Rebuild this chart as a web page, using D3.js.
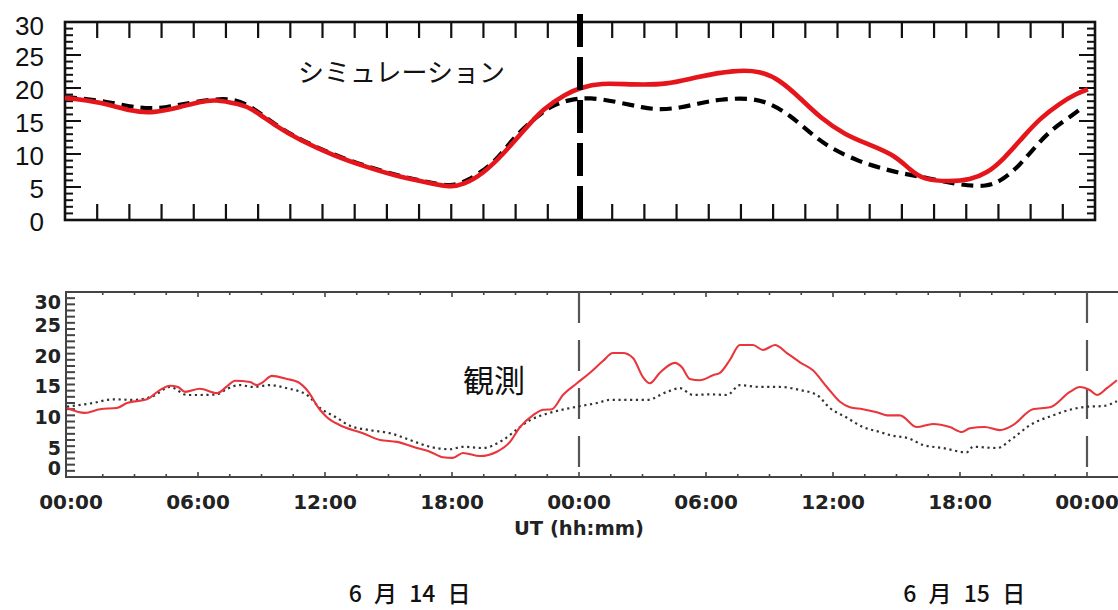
<!DOCTYPE html>
<html>
<head>
<meta charset="utf-8">
<script src="https://cdn.jsdelivr.net/npm/d3@7"></script>
<style>
  html, body { margin: 0; padding: 0; background: #fff; }
  svg { display: block; }
</style>
</head>
<body>
<svg id="chart" width="1118" height="610"></svg>
<script>
// ---- data: hours since 00:00 UT on June 14, values in the panel units ----
const hourTicks = [0, 6, 12, 18, 24, 30, 36, 42, 48];
const hourTickLabels = ["00:00", "06:00", "12:00", "18:00", "00:00", "06:00", "12:00", "18:00", "00:00"];
const valueTicks = [0, 5, 10, 15, 20, 25, 30];
const dayBoundaries = [24, 48];
const dateLabels = ["6 月 14 日", "6 月 15 日"];
const dateLabelHours = [16, 42.2];
const panelTitles = ["シミュレーション", "観測"];
const axisTitle = "UT (hh:mm)";

// simulation, red solid curve
const simRed = [
  [0, 18.5], [1.63, 17.9], [3.17, 16.4], [4.1, 16.2], [5.36, 17.1], [6.29, 17.9], [6.99, 18.3],
  [8.16, 17.5], [8.62, 17.1], [9.88, 14.1], [10.95, 12.1], [12.49, 9.8], [14.07, 8.0], [15.61, 6.5],
  [17.15, 5.5], [17.94, 5.0], [18.55, 5.3], [19.48, 7.0], [20.4, 9.9], [21.34, 13.4], [22.28, 16.9],
  [23.39, 19.2], [24.0, 20.0], [24.93, 20.8], [26.47, 20.5], [28.05, 20.5], [29.45, 21.7],
  [31.22, 22.7], [32.39, 22.6], [33.32, 21.2], [34.25, 18.5], [35.19, 15.5], [36.35, 12.9],
  [37.51, 11.4], [38.68, 9.8], [39.38, 7.6], [39.98, 6.1], [41.24, 5.8], [42.18, 6.1], [42.97, 7.1],
  [43.71, 9.1], [44.65, 12.6], [45.44, 15.4], [46.37, 17.7], [47.16, 19.2], [47.67, 19.8]
];

// simulation, black dashed curve
const simBlack = [
  [0, 18.6], [1.63, 18.2], [3.49, 16.8], [4.75, 17.0], [5.97, 17.9], [7.69, 18.6], [8.62, 17.4],
  [9.88, 14.2], [10.95, 12.2], [12.49, 9.9], [14.07, 8.1], [15.61, 6.6], [17.15, 5.6], [17.94, 5.1],
  [18.73, 5.8], [19.99, 8.6], [20.6, 11.2], [21.34, 13.9], [22.28, 16.4], [22.6, 17.1], [23.39, 18.2],
  [24.46, 18.6], [25.72, 17.9], [26.94, 17.0], [27.76, 16.7], [28.66, 17.0], [29.45, 17.6],
  [30.52, 18.3], [31.92, 18.5], [32.85, 17.7], [33.78, 15.9], [34.72, 13.2], [35.65, 10.9],
  [37.05, 8.8], [37.98, 7.9], [38.91, 7.1], [40.17, 6.4], [41.7, 5.3], [42.97, 5.0], [43.71, 6.1],
  [44.5, 8.3], [45.29, 11.4], [46.04, 13.9], [46.97, 15.9], [47.39, 17.0]
];

// observation, red solid curve
const obsRed = [
  [-0.19, 11.2], [0.66, 10.4], [1.37, 11.0], [2.17, 11.2], [2.65, 12.0], [3.59, 12.6], [4.2, 14.1],
  [4.68, 14.8], [5.05, 14.6], [5.39, 13.8], [6.09, 14.3], [6.9, 13.6], [7.37, 14.7], [7.75, 15.6],
  [8.46, 15.4], [8.79, 14.9], [9.07, 15.4], [9.49, 16.4], [10.2, 15.9], [10.72, 15.4], [11.15, 14.1],
  [11.76, 10.9], [12.09, 9.7], [12.71, 8.4], [13.79, 7.1], [14.6, 6.0], [15.4, 5.7], [16.34, 4.7],
  [16.96, 4.1], [17.57, 3.2], [18.04, 3.1], [18.52, 3.9], [19.32, 3.4], [20.12, 4.1], [20.74, 5.7],
  [21.21, 8.1], [21.82, 10.0], [22.3, 10.9], [22.72, 11.0], [23.24, 13.3], [23.9, 15.2], [24.52, 16.9],
  [25.13, 18.8], [25.6, 20.1], [26.07, 20.1], [26.55, 19.3], [27.02, 16.2], [27.35, 15.2],
  [27.82, 16.9], [28.53, 18.5], [28.86, 17.8], [29.24, 15.9], [29.71, 15.7], [30.33, 16.5],
  [30.66, 16.9], [31.13, 19.0], [31.6, 21.4], [32.22, 21.4], [32.69, 20.6], [33.26, 21.4],
  [33.82, 20.1], [34.44, 18.6], [35.05, 17.3], [35.71, 14.6], [36.33, 12.2], [36.8, 11.3],
  [37.41, 11.0], [38.07, 10.5], [38.55, 10.0], [39.16, 10.0], [39.96, 8.1], [40.72, 8.6],
  [41.52, 8.1], [42.09, 7.3], [42.47, 7.9], [43.17, 8.1], [43.88, 7.6], [44.5, 8.4], [45.44, 11.0],
  [46.25, 11.3], [47.19, 13.8], [47.66, 14.6], [48.13, 14.1], [48.47, 13.3], [48.94, 14.4], [49.41, 15.7]
];

// observation, black dotted curve
const obsBlack = [
  [-0.19, 11.4], [1.04, 12.0], [1.98, 12.6], [2.93, 12.5], [3.87, 13.1], [4.68, 14.6], [5.48, 13.3],
  [6.09, 13.3], [6.9, 13.4], [7.37, 14.3], [7.98, 14.9], [8.6, 14.6], [9.4, 14.9], [10.2, 14.4],
  [11.15, 13.3], [11.76, 11.2], [12.56, 9.6], [13.18, 8.3], [14.12, 7.6], [15.07, 7.1], [16.01, 6.0],
  [16.96, 4.9], [17.9, 4.5], [18.52, 4.9], [19.46, 4.7], [20.41, 6.0], [21.21, 8.1], [21.68, 9.2],
  [22.63, 10.4], [23.9, 11.4], [24.85, 12.0], [25.46, 12.5], [25.93, 12.5], [27.21, 12.5],
  [28.15, 13.8], [28.77, 14.4], [29.38, 13.3], [30.18, 13.4], [30.99, 13.3], [31.6, 14.9],
  [32.55, 14.6], [33.49, 14.6], [34.44, 14.1], [35.24, 13.3], [35.85, 11.2], [36.66, 9.6],
  [37.41, 8.1], [38.21, 7.3], [38.69, 6.8], [39.63, 6.2], [40.25, 5.2], [41.19, 4.7], [42.32, 4.0],
  [42.61, 4.9], [43.74, 4.7], [44.5, 6.3], [45.3, 8.4], [46.39, 10.0], [47.19, 10.9], [47.99, 11.4],
  [48.75, 11.5], [49.41, 12.3]
];

// ---- drawing ----
const svg = d3.select("#chart");
const RED = "#e4161b";
const OBS_RED = "#e8363c";

// ===== upper panel (simulation) =====
const xT = d3.scaleLinear().domain([0, 48]).range([65, 1095]);
const yT = d3.scaleLinear().domain([0, 30]).range([220, 22]);
const simPanel = svg.append("g");

// tick marks every 1.5 h on top and bottom edges
const topHourTicks = d3.range(1.5, 48, 1.5);
simPanel.append("g").selectAll("line").data(topHourTicks).join("line")
  .attr("x1", d => xT(d)).attr("x2", d => xT(d))
  .attr("y1", yT(30)).attr("y2", yT(30) + 16)
  .attr("stroke", "#111").attr("stroke-width", 2.2);
simPanel.append("g").selectAll("line").data(topHourTicks).join("line")
  .attr("x1", d => xT(d)).attr("x2", d => xT(d))
  .attr("y1", yT(0)).attr("y2", yT(0) - 16)
  .attr("stroke", "#111").attr("stroke-width", 2.2);

// value ticks on left and right edges
const unitTicks = d3.range(1, 30);
[[xT(0), 1], [xT(48), -1]].forEach(([x0, dir]) => {
  simPanel.append("g").selectAll("line").data(unitTicks).join("line")
    .attr("x1", x0).attr("x2", d => x0 + dir * (d % 5 === 0 ? 16 : 8))
    .attr("y1", d => yT(d)).attr("y2", d => yT(d))
    .attr("stroke", "#111").attr("stroke-width", 2);
});

// frame
simPanel.append("rect")
  .attr("x", xT(0)).attr("y", yT(30))
  .attr("width", xT(48) - xT(0)).attr("height", yT(0) - yT(30))
  .attr("fill", "none").attr("stroke", "#111").attr("stroke-width", 2.6);

// value labels
simPanel.append("g").selectAll("text").data(valueTicks).join("text")
  .attr("x", 44)
  .attr("y", d => d === 30 ? 26 : yT(d) + 2)
  .attr("dy", "0.36em")
  .attr("text-anchor", "end")
  .attr("font-family", "Liberation Sans, Arial, sans-serif")
  .attr("font-size", 26)
  .attr("fill", "#111")
  .text(d => d);

const lineT = d3.line().x(d => xT(d[0])).y(d => yT(d[1])).curve(d3.curveBasis);

simPanel.append("path").datum(simBlack)
  .attr("d", lineT).attr("fill", "none")
  .attr("stroke", "#000").attr("stroke-width", 4.2)
  .attr("stroke-dasharray", "12,7");

simPanel.append("path").datum(simRed)
  .attr("d", lineT).attr("fill", "none")
  .attr("stroke", RED).attr("stroke-width", 4.6)
  .attr("stroke-linejoin", "round");

// day boundary, heavy dashes
simPanel.append("line")
  .attr("x1", xT(24)).attr("x2", xT(24))
  .attr("y1", 14).attr("y2", yT(0) - 1)
  .attr("stroke", "#000").attr("stroke-width", 6)
  .attr("stroke-dasharray", "33,10");

simPanel.append("text")
  .attr("x", 298).attr("y", 73).attr("dy", "0.35em")
  .attr("font-family", "Noto Sans CJK JP, sans-serif")
  .attr("font-size", 26).attr("fill", "#111")
  .text(panelTitles[0]);

// ===== lower panel (observation) =====
const xB = d3.scaleLinear().domain([0, 48]).range([71, 1087]);
const yB = d3.scaleLinear().domain([0, 30]).range([477, 292]);
const frameLeft = 66, frameRight = 1135;
const obsPanel = svg.append("g");

// value ticks (every unit) along left edge
obsPanel.append("g").selectAll("line").data(d3.range(0, 31)).join("line")
  .attr("x1", frameLeft).attr("x2", frameLeft + 9)
  .attr("y1", d => yB(d)).attr("y2", d => yB(d))
  .attr("stroke", "#444").attr("stroke-width", 2);

// hour ticks along top and bottom edges
const botHourTicks = d3.range(1.5, 50, 1.5);
[[yB(30), 1], [yB(0), -1]].forEach(([y0, dir]) => {
  obsPanel.append("g").selectAll("line").data(botHourTicks).join("line")
    .attr("x1", d => xB(d)).attr("x2", d => xB(d))
    .attr("y1", y0).attr("y2", d => y0 + dir * (d % 6 === 0 ? 5 : 3))
    .attr("stroke", "#444").attr("stroke-width", 1.6);
});

// frame
obsPanel.append("path")
  .attr("d", `M${frameRight},${yB(30)}H${frameLeft}V${yB(0)}H${frameRight}`)
  .attr("fill", "none").attr("stroke", "#444").attr("stroke-width", 2);

// day boundaries
obsPanel.append("g").selectAll("line").data(dayBoundaries).join("line")
  .attr("x1", d => xB(d)).attr("x2", d => xB(d))
  .attr("y1", yB(30)).attr("y2", yB(0))
  .attr("stroke", "#555").attr("stroke-width", 2.2)
  .attr("stroke-dasharray", "31,17");

const lineB = d3.line().x(d => xB(d[0])).y(d => yB(d[1])).curve(d3.curveMonotoneX);

obsPanel.append("path").datum(obsBlack)
  .attr("d", lineB).attr("fill", "none")
  .attr("stroke", "#333").attr("stroke-width", 2.2)
  .attr("stroke-dasharray", "2.2,3.6");

obsPanel.append("path").datum(obsRed)
  .attr("d", lineB).attr("fill", "none")
  .attr("stroke", OBS_RED).attr("stroke-width", 2.1)
  .attr("stroke-linejoin", "round");

// value labels
obsPanel.append("g").selectAll("text").data(valueTicks).join("text")
  .attr("x", 61)
  .attr("y", d => Math.min(Math.max(yB(d) + 2, 302), 468))
  .attr("dy", "0.36em")
  .attr("text-anchor", "end")
  .attr("font-family", "DejaVu Sans, sans-serif")
  .attr("font-weight", "bold")
  .attr("font-size", 19)
  .attr("fill", "#222")
  .text(d => d);

// hour labels
obsPanel.append("g").selectAll("text").data(hourTicks).join("text")
  .attr("x", d => xB(d))
  .attr("y", 502).attr("dy", "0.36em")
  .attr("text-anchor", "middle")
  .attr("font-family", "DejaVu Sans, sans-serif")
  .attr("font-weight", "bold")
  .attr("font-size", 20)
  .attr("fill", "#222")
  .text((d, i) => hourTickLabels[i]);

obsPanel.append("text")
  .attr("x", xB(24)).attr("y", 528).attr("dy", "0.36em")
  .attr("text-anchor", "middle")
  .attr("font-family", "DejaVu Sans, sans-serif")
  .attr("font-weight", "bold")
  .attr("font-size", 19.5)
  .attr("fill", "#222")
  .text(axisTitle);

obsPanel.append("text")
  .attr("x", 463).attr("y", 381).attr("dy", "0.35em")
  .attr("font-family", "Noto Sans CJK JP, sans-serif")
  .attr("font-size", 31).attr("fill", "#111")
  .text(panelTitles[1]);

// date captions
svg.append("g").selectAll("text").data(dateLabels).join("text")
  .attr("x", (d, i) => xB(dateLabelHours[i]))
  .attr("y", 594).attr("dy", "0.35em")
  .attr("text-anchor", "middle")
  .attr("font-family", "Noto Sans CJK JP, sans-serif")
  .attr("font-size", 23)
  .attr("font-weight", 500)
  .attr("word-spacing", 7)
  .attr("fill", "#111")
  .text(d => d);
</script>
</body>
</html>
